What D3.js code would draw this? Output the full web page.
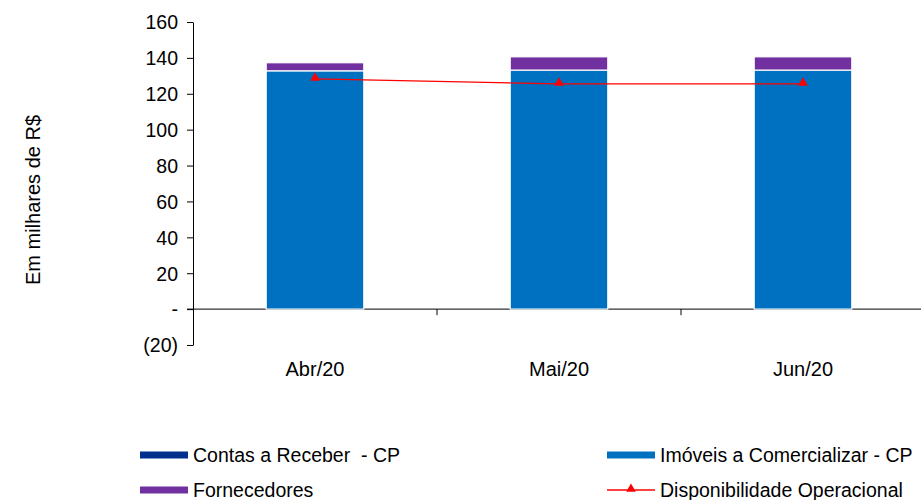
<!DOCTYPE html>
<html>
<head>
<meta charset="utf-8">
<script src="https://cdn.jsdelivr.net/npm/d3@7"></script>
<style>
  html, body { margin: 0; padding: 0; background: #fff; }
  svg { display: block; font-family: "Liberation Sans", Arial, sans-serif; }
</style>
</head>
<body>
<svg id="chart" width="921" height="500"></svg>
<script>
// Monthly working-capital components (R$ thousands)
const categories = ["Abr/20", "Mai/20", "Jun/20"];
const contasReceber = [0, 0, 0];
const imoveis = [132.8, 133.2, 133.2];
const fornecedores = [4.5, 7.4, 7.4];
const disponibilidade = [128.3, 125.5, 125.5];
const yTicks = [-20, 0, 20, 40, 60, 80, 100, 120, 140, 160];

const colors = {
  contas: "#002F8E",
  imoveis: "#0070C0",
  fornecedores: "#7030A0",
  disp: "#FF0000"
};
const FONT = "Liberation Sans, Arial, sans-serif";

const svg = d3.select("#chart");
const x0 = 193, x1 = 925;
const y = d3.scaleLinear().domain([-20, 160]).range([345, 22]);
const x = d3.scaleBand().domain(categories).range([x0, x1]).paddingInner(0).paddingOuter(0);
const barW = x.bandwidth() * 0.4;

// Y axis
const yAxis = d3.axisLeft(y).tickValues(yTicks).tickSize(6).tickSizeOuter(0)
  .tickFormat(d => d === 0 ? "-" : d < 0 ? `(${Math.abs(d)})` : d);
const gy = svg.append("g").attr("transform", `translate(${x0},0)`).call(yAxis);
gy.select(".domain").attr("stroke", "#000");
gy.selectAll(".tick line").attr("stroke", "#000");
gy.selectAll(".tick text").attr("font-size", 19.5).attr("fill", "#000").attr("x", -15)
  .attr("dy", "0.35em").attr("font-family", FONT);

// Category labels under the plot
const xAxis = d3.axisBottom(x).tickSize(0).tickSizeOuter(0);
const gx = svg.append("g").attr("transform", `translate(0,${y(0)})`).call(xAxis);
gx.select(".domain").remove();
gx.selectAll(".tick text").attr("font-size", 20).attr("fill", "#000")
  .attr("y", 376 - y(0)).attr("dy", 0).attr("font-family", FONT);

// Zero line and category divider ticks
svg.append("line").attr("x1", x0 - 6).attr("x2", 921).attr("y1", y(0)).attr("y2", y(0)).attr("stroke", "#000");
svg.selectAll("line.div").data(categories.slice(1)).enter().append("line")
  .attr("x1", d => x(d)).attr("x2", d => x(d))
  .attr("y1", y(0)).attr("y2", y(0) + 6).attr("stroke", "#000");

// Stacked bars
const rows = categories.map((c, i) => ({ cat: c, contas: contasReceber[i], imoveis: imoveis[i], fornecedores: fornecedores[i] }));
const stack = d3.stack().keys(["contas", "imoveis", "fornecedores"])(rows);
svg.append("g").selectAll("g").data(stack).enter().append("g")
  .attr("fill", d => colors[d.key])
  .selectAll("rect").data(d => d).enter().append("rect")
  .attr("x", d => x(d.data.cat) + (x.bandwidth() - barW) / 2)
  .attr("width", barW)
  .attr("y", d => y(d[1]))
  .attr("height", d => Math.max(0, y(d[0]) - y(d[1])))
  .attr("stroke", "#fff").attr("stroke-width", 1.2);

// Disponibilidade line with triangle markers
const line = d3.line().x((d, i) => x(categories[i]) + x.bandwidth() / 2).y(d => y(d));
svg.append("path").datum(disponibilidade).attr("d", line)
  .attr("fill", "none").attr("stroke", colors.disp).attr("stroke-width", 1.3);
const tri = d3.symbol().type(d3.symbolTriangle).size(40);
svg.selectAll("path.mk").data(disponibilidade).enter().append("path")
  .attr("d", tri)
  .attr("transform", (d, i) => `translate(${x(categories[i]) + x.bandwidth() / 2},${y(d) - 1})`)
  .attr("fill", colors.disp);

// Y axis title
svg.append("text").attr("transform", "translate(40,200) rotate(-90)")
  .attr("text-anchor", "middle").attr("font-size", 20).attr("fill", "#000")
  .attr("font-family", FONT)
  .text("Em milhares de R$");

// Legend
const legend = [
  { name: "Contas a Receber\u00a0\u00a0- CP", type: "bar", color: colors.contas, lx: 140, ly: 455 },
  { name: "Imóveis a Comercializar - CP", type: "bar", color: colors.imoveis, lx: 607, ly: 455 },
  { name: "Fornecedores", type: "bar", color: colors.fornecedores, lx: 140, ly: 490 },
  { name: "Disponibilidade Operacional", type: "line", color: colors.disp, lx: 607, ly: 490 }
];
const lg = svg.append("g").selectAll("g").data(legend).enter().append("g")
  .attr("transform", d => `translate(${d.lx},${d.ly})`);
lg.filter(d => d.type === "bar").append("rect")
  .attr("x", 0).attr("y", -3.5).attr("width", 48).attr("height", 7).attr("fill", d => d.color);
lg.filter(d => d.type === "line").append("line")
  .attr("x1", 0).attr("x2", 48).attr("y1", 0).attr("y2", 0).attr("stroke", d => d.color).attr("stroke-width", 1.3);
lg.filter(d => d.type === "line").append("path")
  .attr("d", tri).attr("transform", "translate(24,-1)").attr("fill", d => d.color);
lg.append("text").attr("x", 53).attr("y", 7).attr("font-size", 19.5).attr("fill", "#000")
  .attr("font-family", FONT)
  .text(d => d.name);
</script>
</body>
</html>
